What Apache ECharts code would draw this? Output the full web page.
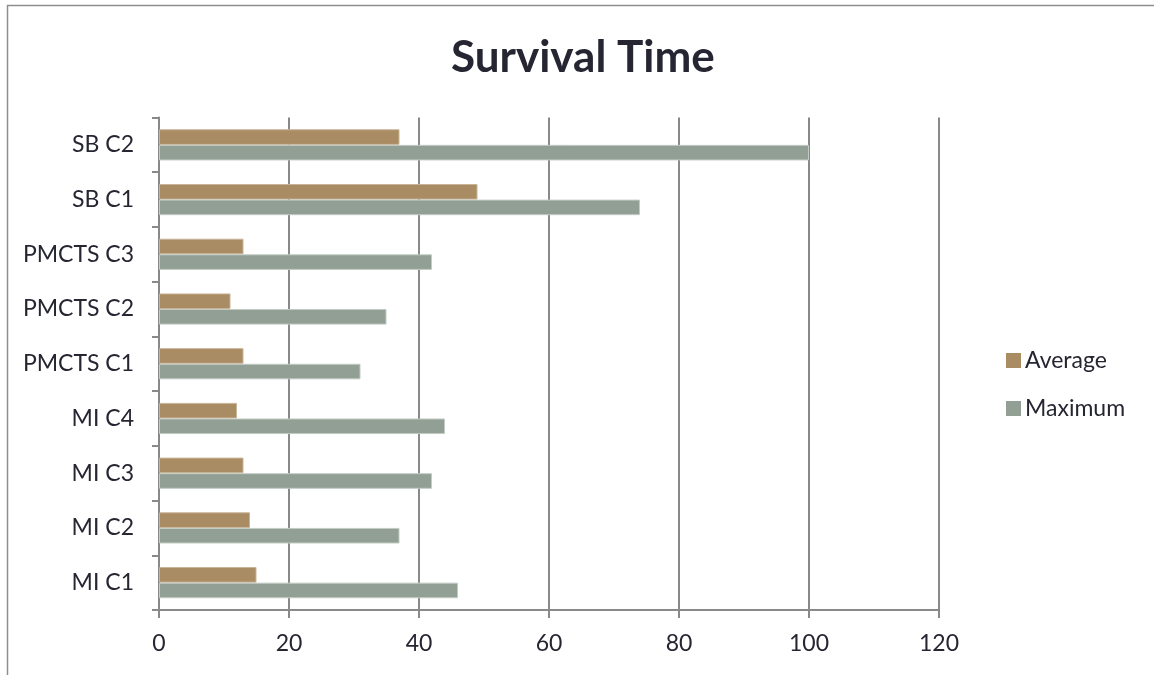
<!DOCTYPE html>
<html>
<head>
<meta charset="utf-8">
<style>
  html, body { margin: 0; padding: 0; background: #ffffff; }
  #chart { width: 1154px; height: 675px; }
</style>
<script src="https://cdn.jsdelivr.net/npm/echarts@6/dist/echarts.min.js"></script>
</head>
<body>
<div id="chart"></div>
<script>
// Survival time per configuration (bottom to top on the category axis)
const categories = ['MI C1', 'MI C2', 'MI C3', 'MI C4', 'PMCTS C1', 'PMCTS C2', 'PMCTS C3', 'SB C1', 'SB C2'];
const averageValues = [15, 14, 13, 12, 13, 11, 13, 49, 37];
const maximumValues = [46, 37, 42, 44, 31, 35, 42, 74, 100];
const seriesNames = ['Average', 'Maximum'];

const textColor = '#262633';
const lineColor = '#898989';
const fontFamily = 'Lato, "Open Sans", sans-serif';

const chart = echarts.init(document.getElementById('chart'), null, { renderer: 'canvas' });

chart.setOption({
  backgroundColor: '#ffffff',
  animation: false,
  textStyle: { fontFamily: fontFamily, color: textColor },
  title: {
    text: 'Survival Time',
    left: 446,
    top: 31,
    textStyle: { fontFamily: fontFamily, fontSize: 44, fontWeight: 'bold', color: textColor }
  },
  graphic: [
    { type: 'line', shape: { x1: 7, y1: 5.5, x2: 1154, y2: 5.5 }, style: { stroke: '#8e8e8e', lineWidth: 1.5 }, silent: true },
    { type: 'line', shape: { x1: 7.5, y1: 5, x2: 7.5, y2: 675 }, style: { stroke: '#8e8e8e', lineWidth: 1.5 }, silent: true }
  ],
  legend: {
    orient: 'vertical',
    left: 1001,
    top: 344,
    itemWidth: 15,
    itemHeight: 15,
    itemGap: 25,
    icon: 'rect',
    data: seriesNames,
    itemStyle: { borderWidth: 0 },
    textStyle: { fontFamily: fontFamily, fontSize: 23, color: textColor, padding: [0, 0, 0, -1] }
  },
  grid: { left: 159, right: 215, top: 117.5, bottom: 65, containLabel: false },
  xAxis: {
    type: 'value',
    min: 0,
    max: 120,
    interval: 20,
    axisLine: { show: true, lineStyle: { color: lineColor, width: 2 } },
    axisTick: { show: true, length: 8, lineStyle: { color: lineColor, width: 2 } },
    axisLabel: { margin: 22, fontSize: 23, color: textColor, fontFamily: fontFamily },
    splitLine: { show: true, lineStyle: { color: lineColor, width: 2 } }
  },
  yAxis: {
    type: 'category',
    data: categories,
    axisLine: { show: true, lineStyle: { color: lineColor, width: 2 } },
    axisTick: { show: true, length: 7, inside: false, alignWithLabel: false, lineStyle: { color: lineColor, width: 2 } },
    axisLabel: { margin: 25, fontSize: 23, color: textColor, fontFamily: fontFamily },
    splitLine: { show: false }
  },
  series: [
    {
      name: seriesNames[0],
      type: 'bar',
      data: averageValues,
      barGap: '0%',
      barCategoryGap: '43%',
      itemStyle: { color: '#a98b64', borderColor: '#c9b497', borderWidth: 1 }
    },
    {
      name: seriesNames[1],
      type: 'bar',
      data: maximumValues,
      barGap: '0%',
      barCategoryGap: '43%',
      itemStyle: { color: '#919f94', borderColor: '#c3cbc4', borderWidth: 1 }
    }
  ]
});
</script>
</body>
</html>
